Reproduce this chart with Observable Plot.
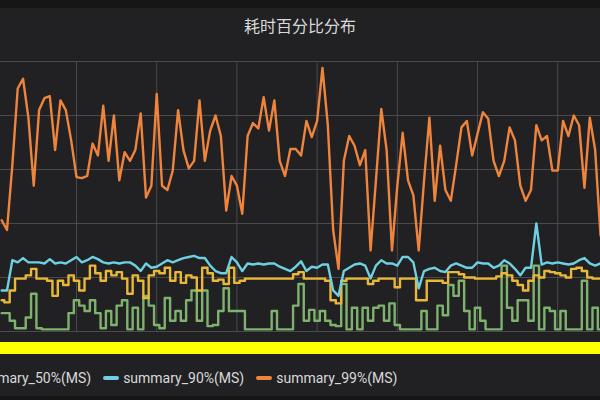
<!DOCTYPE html>
<html><head><meta charset="utf-8">
<script src="https://cdn.jsdelivr.net/npm/d3@7"></script>
<script src="https://cdn.jsdelivr.net/npm/@observablehq/plot@0.6"></script>
<style>
html,body{margin:0;padding:0;background:#212124;width:600px;height:400px;overflow:hidden;position:relative;font-family:Roboto,"Noto Sans CJK SC",sans-serif;}
#topbar{position:absolute;left:0;top:0;width:600px;height:8px;background:#161617;}
#title{position:absolute;left:0;top:14px;width:600px;text-align:center;font:16px/22px "Noto Sans CJK SC",sans-serif;color:#d8d9da;}
#chart{position:absolute;left:0;top:44px;width:600px;}
#redact{position:absolute;left:0;top:342px;width:600px;height:12px;background:#ffff00;}
#legend{position:absolute;left:-50px;top:368px;white-space:nowrap;display:flex;align-items:center;font:14px/20px Roboto,sans-serif;color:#d8d9da;}
#legend .item{display:flex;align-items:center;margin-right:12px;}
#legend .sw{width:16px;height:4px;border-radius:2px;margin-right:4px;}
#botbar{position:absolute;left:0;top:396px;width:600px;height:4px;background:#161617;}
</style></head>
<body>
<div id="topbar"></div>
<div id="title">耗时百分比分布</div>
<div id="chart"></div>
<div id="redact"></div>
<div id="legend"></div>
<div id="botbar"></div>
<script>
// series values (ms), one per minute starting 09:46
const p99 = [103,94,154,225,234,198,135,205,216,218,168,214,205,177,143,142,144,174,163,209,158,200,140,166,158,168,202,124,135,220,135,131,149,205,168,151,158,214,158,186,200,181,112,144,135,109,181,193,188,217,186,214,158,144,169,169,163,195,180,195,244,191,94,58,158,181,172,154,168,75,140,206,168,75,135,184,140,126,75,140,198,121,172,131,121,154,189,195,163,183,203,197,158,144,158,189,177,135,121,131,191,177,181,149,149,195,181,200,191,133,198,168,89];
const p90 = [38,38,66,64,68,64,64,64,63,67,63,64,63,66,69,64,66,69,67,64,63,64,63,64,64,61,56,63,59,60,63,66,64,66,68,69,70,68,68,61,56,54,54,69,64,56,63,62,63,62,63,63,60,58,56,60,65,56,60,59,62,62,38,33,56,59,62,63,61,49,61,66,63,63,61,69,69,64,40,56,58,59,56,55,61,63,61,59,59,64,63,63,59,61,66,63,58,52,59,59,100,62,64,63,64,63,62,63,66,68,63,61,63];
const p50 = [29,27,38,49,49,52,58,49,49,47,33,47,43,52,47,38,49,61,54,47,56,52,55,49,35,52,47,31,52,56,54,59,47,55,45,52,50,38,59,54,47,48,44,59,45,47,49,49,49,49,49,49,49,49,49,53,55,49,49,49,49,47,29,26,47,49,49,49,49,44,47,49,49,49,41,49,49,49,29,29,47,47,47,45,55,55,53,50,50,49,49,49,49,51,54,52,47,43,38,47,52,50,56,55,54,52,50,58,59,56,50,49,49];
const pLow = [17,17,10,3,3,13,35,3,2,2,2,2,2,17,29,24,19,29,17,3,19,6,24,29,2,22,2,33,24,6,3,31,10,19,10,29,38,10,38,5,6,19,40,19,19,19,2,2,2,2,2,19,2,2,2,24,44,10,20,10,19,10,6,5,44,2,22,2,22,10,22,24,10,26,6,2,2,2,2,19,2,2,24,15,43,33,47,19,2,22,10,2,2,2,61,22,10,29,29,10,61,2,22,19,2,19,2,2,2,47,2,22,2];

const seriesNames = ["summary_10%(MS)","summary_50%(MS)","summary_90%(MS)","summary_99%(MS)"];
const seriesColors = ["#7eb26d","#eab839","#6ed0e0","#ef843c"];
const startTime = "09:46";
const xTickLabels = ["10:00","10:15","10:30","10:45","11:00","11:15","11:30"];
const xDomainLabels = ["09:45:47","11:38:00"];
const yTicks = [0,50,100,150,200,250];

const parseHM = d3.timeParse("%H:%M");
const parseHMS = d3.timeParse("%H:%M:%S");
const t0 = parseHM(startTime);
const seriesValues = [pLow, p50, p90, p99];
const toRows = (vals, s) => vals.map((v, i) => ({series: seriesNames[s], t: d3.timeMinute.offset(t0, i), v}));

const chart = Plot.plot({
  width: 600, height: 298,
  marginTop: 17, marginBottom: 11, marginLeft: 0, marginRight: 0,
  style: {background: "transparent"},
  x: {type: "time", domain: xDomainLabels.map(parseHMS), axis: null},
  y: {domain: [0, 250], axis: null},
  color: {domain: seriesNames, range: seriesColors},
  marks: [
    Plot.gridX(xTickLabels.map(parseHM), {stroke: "#4a4a4c", strokeOpacity: 1}),
    Plot.gridY(yTicks, {stroke: "#4a4a4c", strokeOpacity: 1}),
    Plot.line(toRows(pLow, 0), {x: "t", y: "v", stroke: "series", strokeWidth: 2.4, curve: "step"}),
    Plot.line(toRows(p50, 1), {x: "t", y: "v", stroke: "series", strokeWidth: 2.4, curve: "step"}),
    Plot.line(toRows(p90, 2), {x: "t", y: "v", stroke: "series", strokeWidth: 2.4, curve: "linear"}),
    Plot.line(toRows(p99, 3), {x: "t", y: "v", stroke: "series", strokeWidth: 2.4, curve: "linear"})
  ]
});
document.getElementById("chart").appendChild(chart);

const legend = document.getElementById("legend");
seriesNames.slice(1).forEach((name, k) => {
  const it = document.createElement("div"); it.className = "item";
  const sw = document.createElement("div"); sw.className = "sw"; sw.style.background = seriesColors[k + 1];
  const tx = document.createElement("span"); tx.textContent = name;
  it.appendChild(sw); it.appendChild(tx); legend.appendChild(it);
});
</script>
</body></html>
